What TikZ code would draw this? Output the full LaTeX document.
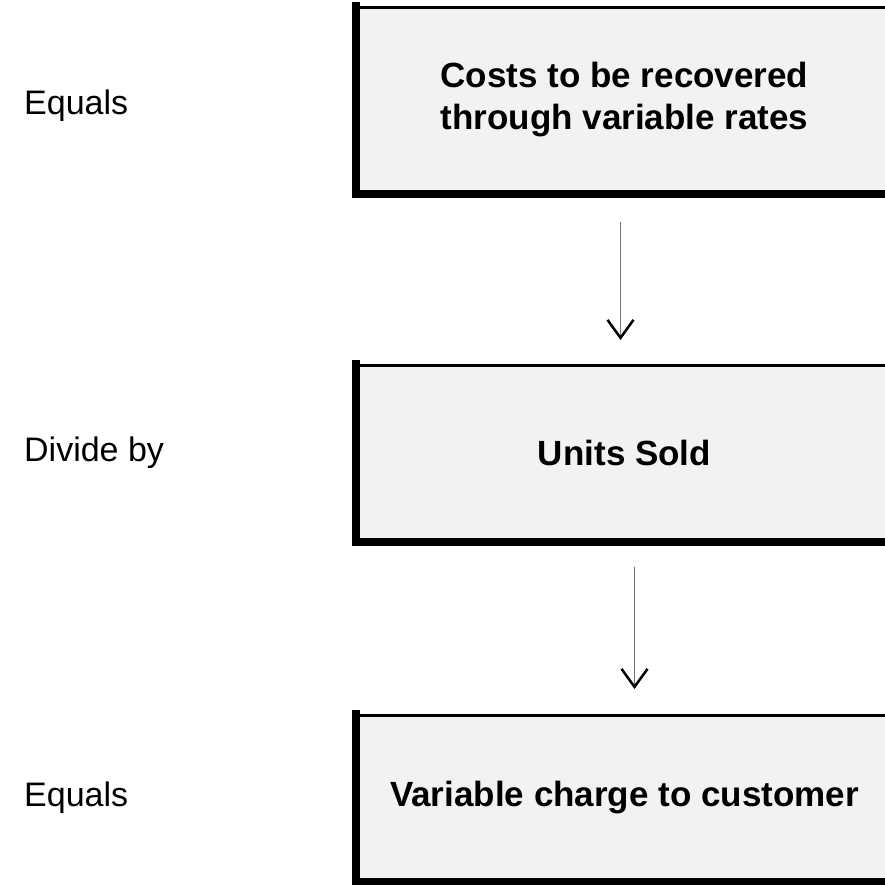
\documentclass[tikz,border=0pt]{standalone}
\usepackage{fontspec}
\setmainfont{Liberation Sans}
\usetikzlibrary{arrows.meta}
\begin{document}
\begin{tikzpicture}[x=1pt,y=-1pt,
  box/.style={fill=black!5, draw=black, line width=3pt, minimum width=534pt, inner sep=0pt,
    anchor=north west, align=center, font=\fontsize{35}{42}\selectfont\bfseries},
  thickedge/.style={line width=8pt, line cap=rect},
  lbl/.style={anchor=west, inner sep=0pt, font=\fontsize{34}{40}\selectfont},
  arr/.style={draw=black!55, line width=1.5pt,
    -{Straight Barb[length=18pt,width=26pt,line width=2.5pt,black]}}
]
\useasboundingbox (0,0) rectangle (884,885);
\node[box, minimum height=185pt] (b1) at (356,6) {Costs to be recovered\\through variable rates};
\node[box, minimum height=175pt] (b2) at (356,364) {Units Sold};
\node[box, minimum height=165pt] (b3) at (356,714) {Variable charge to customer};
\foreach \b in {b1,b2,b3}{
  \draw[thickedge] (\b.north west) -- (\b.south west) -- (\b.south east);
}
\node[lbl] (l1) at ([yshift=-6pt]24,0 |- b1.west) {Equals};
\node[lbl] (l2) at (24,0 |- b2.west) {Divide by};
\node[lbl] (l3) at (24,0 |- b3.west) {Equals};
\draw[arr] ([xshift=-4pt,yshift=-28pt]b1.south) -- ([xshift=-4pt,yshift=24pt]b2.north);
\draw[arr] ([xshift=10pt,yshift=-25pt]b2.south) -- ([xshift=10pt,yshift=25pt]b3.north);
\end{tikzpicture}
\end{document}
